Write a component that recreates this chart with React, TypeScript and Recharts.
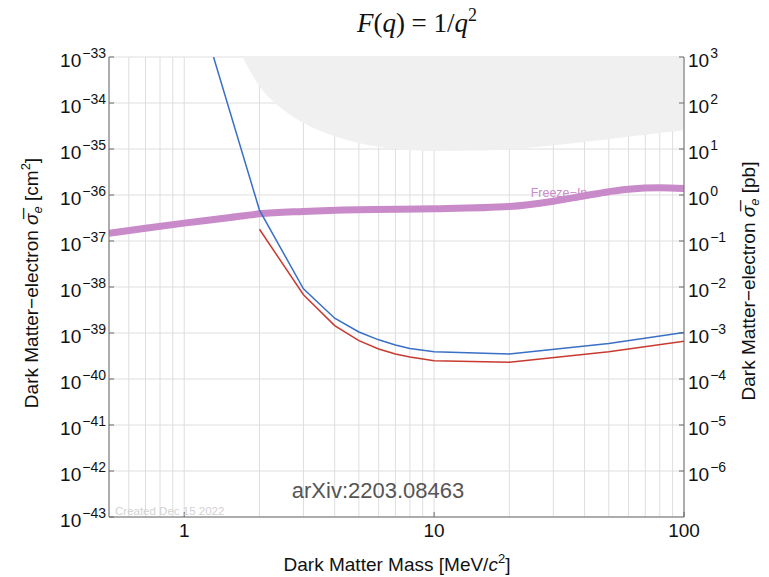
import React from 'react';
import { ComposedChart, Line, Area, XAxis, YAxis, CartesianGrid } from 'recharts';

// ---- data -----------------------------------------------------------------
// Dark matter mass grid lines and labelled ticks [MeV/c^2]
const massGrid = [0.6, 0.7, 0.8, 0.9, 1, 2, 3, 4, 5, 6, 7, 8, 9, 10, 20, 30, 40, 50, 60, 70, 80, 90, 100];
const massTicks = [1, 10, 100];
const massDomain = [0.5, 100];

// Cross-section ticks: left axis in cm^2, right axis in pb (1 pb = 1e-36 cm^2)
const cm2Ticks = [1e-43, 1e-42, 1e-41, 1e-40, 1e-39, 1e-38, 1e-37, 1e-36, 1e-35, 1e-34, 1e-33];
const cm2Domain = [1e-43, 1e-33];
const pbTicks = [1e3, 1e2, 1e1, 1e0, 1e-1, 1e-2, 1e-3, 1e-4, 1e-5, 1e-6];
const pbDomain = [1e-7, 1e3];

// Excluded region (shaded): lower edge of the band, upper edge at the frame top
const excludedMass = [1.71, 2.01, 2.42, 2.99, 4.09, 6.08, 9.65, 15.3, 24.2, 38.1, 60.8, 100];
const excludedFloor = [1e-33, 2.24e-34, 8.1e-35, 3.7e-35, 1.82e-35, 1.1e-35, 9.1e-36, 9.3e-36, 1.08e-35, 1.38e-35, 1.88e-35, 2.55e-35];

// Sensitivity curves
const blueMass = [1.31, 2, 3, 4, 5, 6, 7, 8, 10, 20, 50, 100];
const blueSigma = [1e-33, 4.7e-37, 9.1e-39, 2.1e-39, 1.05e-39, 7.1e-40, 5.5e-40, 4.6e-40, 3.9e-40, 3.5e-40, 5.9e-40, 1.02e-39];
const redMass = [2, 3, 4, 5, 6, 7, 8, 10, 20, 50, 100];
const redSigma = [1.8e-37, 6.8e-39, 1.45e-39, 6.8e-40, 4.5e-40, 3.5e-40, 3.0e-40, 2.5e-40, 2.3e-40, 3.9e-40, 6.6e-40];

// Freeze-in benchmark
const freezeMass = [0.5, 0.7, 1, 1.5, 2, 3, 5, 10, 20, 30, 40, 50, 60, 80, 100];
const freezeSigma = [1.48e-37, 1.9e-37, 2.45e-37, 3.2e-37, 3.9e-37, 4.4e-37, 4.8e-37, 5.0e-37, 5.6e-37, 7.3e-37, 9.6e-37, 1.18e-36, 1.34e-36, 1.43e-36, 1.38e-36];

// ---- layout ---------------------------------------------------------------
const W = 769;
const H = 577;
const PLOT_LEFT = 109;
const PLOT_RIGHT = 684;
const PLOT_TOP = 57;
const PLOT_BOTTOM = 517;

const SANS = '"Liberation Sans", Arial, Helvetica, sans-serif';
const SERIF = '"Liberation Serif", "Times New Roman", serif';
const AXIS_GRAY = '#6a6a6a';
const MINUS = '\u2212';

const excludedData = excludedMass.map((m, i) => ({ m, band: [excludedFloor[i], cm2Domain[1]] }));
const blueData = blueMass.map((m, i) => ({ m, v: blueSigma[i] }));
const redData = redMass.map((m, i) => ({ m, v: redSigma[i] }));
const freezeData = freezeMass.map((m, i) => ({ m, v: freezeSigma[i] }));

const expText = (v: number) => {
  const e = Math.round(Math.log10(v));
  return e < 0 ? MINUS + String(-e) : String(e);
};

const PowerLabel = ({ x, y, anchor, v }: any) => (
  <text x={x} y={y} textAnchor={anchor} fontFamily={SANS} fill="#111">
    <tspan fontSize={19}>10</tspan>
    <tspan fontSize={14} dx={1} dy={-9}>{expText(v)}</tspan>
  </text>
);

const LeftTick = (props: any) => {
  const { y, payload } = props;
  return (
    <g>
      <line x1={PLOT_LEFT} x2={PLOT_LEFT + 5} y1={y} y2={y} stroke={AXIS_GRAY} />
      <PowerLabel x={PLOT_LEFT - 3} y={y + 10} anchor="end" v={payload.value} />
    </g>
  );
};

const RightTick = (props: any) => {
  const { y, payload } = props;
  return (
    <g>
      <line x1={PLOT_RIGHT - 5} x2={PLOT_RIGHT} y1={y} y2={y} stroke={AXIS_GRAY} />
      <PowerLabel x={PLOT_RIGHT + 4} y={y + 10} anchor="start" v={payload.value} />
    </g>
  );
};

const BottomTick = (props: any) => {
  const { x, payload } = props;
  return (
    <g>
      <line x1={x} x2={x} y1={PLOT_BOTTOM} y2={PLOT_BOTTOM - 5} stroke={AXIS_GRAY} />
      <text x={x} y={PLOT_BOTTOM + 20} textAnchor="middle" fontFamily={SANS} fontSize={19} fill="#111">
        {payload.value}
      </text>
    </g>
  );
};

const TopTick = (props: any) => {
  const { x, payload } = props;
  if (!massTicks.includes(payload.value)) return <g />;
  return <line x1={x} x2={x} y1={PLOT_TOP} y2={PLOT_TOP + 5} stroke="#222" />;
};

export default function App() {
  return (
    <div style={{ position: 'absolute', left: 0, top: 0, width: W, height: H, background: '#fff' }}>
      <ComposedChart width={W} height={H} margin={{ top: PLOT_TOP, right: 0, bottom: 0, left: 0 }}>
        <XAxis
          xAxisId="bottom"
          dataKey="m"
          type="number"
          scale="log"
          domain={massDomain}
          allowDataOverflow
          ticks={massTicks}
          tick={<BottomTick />}
          tickLine={false}
          axisLine={{ stroke: AXIS_GRAY }}
          height={H - PLOT_BOTTOM}
          interval={0}
        />
        <XAxis
          xAxisId="top"
          orientation="top"
          dataKey="m"
          type="number"
          scale="log"
          domain={massDomain}
          allowDataOverflow
          ticks={massGrid}
          tick={<TopTick />}
          tickLine={false}
          axisLine={{ stroke: '#222' }}
          height={0}
          interval={0}
        />
        <YAxis
          yAxisId="left"
          type="number"
          scale="log"
          domain={cm2Domain}
          allowDataOverflow
          ticks={cm2Ticks}
          tick={<LeftTick />}
          tickLine={false}
          axisLine={{ stroke: AXIS_GRAY }}
          width={PLOT_LEFT}
          interval={0}
        />
        <YAxis
          yAxisId="right"
          orientation="right"
          type="number"
          scale="log"
          domain={pbDomain}
          allowDataOverflow
          ticks={pbTicks}
          tick={<RightTick />}
          tickLine={false}
          axisLine={{ stroke: AXIS_GRAY }}
          width={W - PLOT_RIGHT}
          interval={0}
        />
        <CartesianGrid xAxisId="top" yAxisId="left" stroke="#dedede" strokeWidth={1} />
        <Area
          xAxisId="bottom"
          yAxisId="left"
          data={excludedData}
          dataKey="band"
          type="monotone"
          fill="#f0f0f0"
          fillOpacity={1}
          stroke="none"
          isAnimationActive={false}
        />
        <Line
          xAxisId="bottom"
          yAxisId="left"
          data={freezeData}
          dataKey="v"
          type="monotone"
          stroke="#c98ac9"
          strokeWidth={7}
          dot={false}
          isAnimationActive={false}
        />
        <Line
          xAxisId="bottom"
          yAxisId="left"
          data={redData}
          dataKey="v"
          type="linear"
          stroke="#c83a30"
          strokeWidth={1.5}
          dot={false}
          isAnimationActive={false}
        />
        <Line
          xAxisId="bottom"
          yAxisId="left"
          data={blueData}
          dataKey="v"
          type="linear"
          stroke="#3a6fc6"
          strokeWidth={1.5}
          dot={false}
          isAnimationActive={false}
        />
      </ComposedChart>
      <svg
        width={W}
        height={H}
        style={{ position: 'absolute', left: 0, top: 0, pointerEvents: 'none' }}
      >
        <text x={417} y={32} textAnchor="middle" fontFamily={SERIF} fontSize={27} fill="#111">
          <tspan fontStyle="italic">F</tspan>
          <tspan>(</tspan>
          <tspan fontStyle="italic">q</tspan>
          <tspan>) = 1/</tspan>
          <tspan fontStyle="italic">q</tspan>
          <tspan fontSize={18} dy={-11}>2</tspan>
        </text>
        <text x={397} y={571} textAnchor="middle" fontFamily={SANS} fontSize={19} fill="#111">
          <tspan>Dark Matter Mass [MeV/</tspan>
          <tspan fontStyle="italic">c</tspan>
          <tspan fontSize={13} dy={-8}>2</tspan>
          <tspan dy={8}>]</tspan>
        </text>
        <text
          x={38}
          y={283}
          transform="rotate(-90 38 283)"
          textAnchor="middle"
          fontFamily={SANS}
          fontSize={19}
          fill="#111"
        >
          <tspan>{'Dark Matter' + MINUS + 'electron '}</tspan>
          <tspan fontStyle="italic">{'\u03c3\u0305'}</tspan>
          <tspan fontStyle="italic" fontSize={13} dy={4}>e</tspan>
          <tspan dy={-4}> [cm</tspan>
          <tspan fontSize={13} dy={-8}>2</tspan>
          <tspan dy={8}>]</tspan>
        </text>
        <text
          x={755}
          y={281}
          transform="rotate(-90 755 281)"
          textAnchor="middle"
          fontFamily={SANS}
          fontSize={19}
          fill="#111"
        >
          <tspan>{'Dark Matter' + MINUS + 'electron '}</tspan>
          <tspan fontStyle="italic">{'\u03c3\u0305'}</tspan>
          <tspan fontStyle="italic" fontSize={13} dy={4}>e</tspan>
          <tspan dy={-4}> [pb]</tspan>
        </text>
        <text x={559} y={197} textAnchor="middle" fontFamily={SANS} fontSize={12.5} fill="#c98ac9">
          {'Freeze' + MINUS + 'In'}
        </text>
        <text x={378} y={498} textAnchor="middle" fontFamily={SANS} fontSize={22} fill="#555">
          arXiv:2203.08463
        </text>
        <text x={115} y={515} fontFamily={SANS} fontSize={11.5} fill="#d2d2d2">
          Created Dec 15 2022
        </text>
      </svg>
    </div>
  );
}
